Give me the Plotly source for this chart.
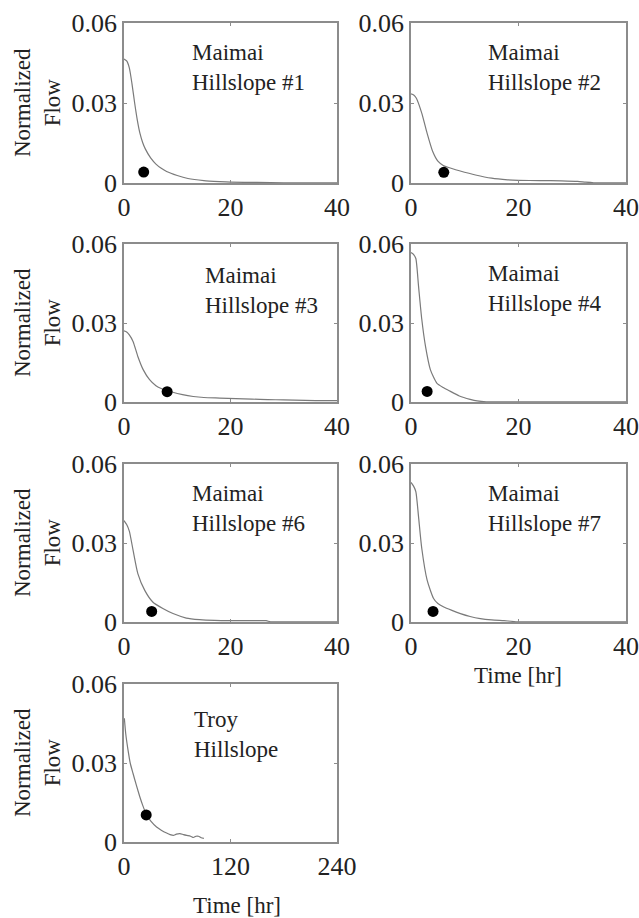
import plotly.graph_objects as go

W, H = 639, 918

# ---- data ----
p1_t = [0, 0.5, 1, 1.5, 2, 2.5, 3, 3.5, 4, 5, 6, 7, 8, 10, 12, 15, 18, 20, 25, 30, 35, 40]
p1_q = [0.0465, 0.0458, 0.0432, 0.0372, 0.0300, 0.0236, 0.0186, 0.0152, 0.0128, 0.0094, 0.0071, 0.0055, 0.0043, 0.0028, 0.0017, 0.0009, 0.0005, 0.0003, 0.0002, 0.0001, 0.0001, 0.0001]

p2_t = [0, 0.5, 1, 2, 3, 4, 5, 6, 7, 9, 12, 15, 18, 20, 24, 28, 31, 32.5, 34, 40]
p2_q = [0.0334, 0.0330, 0.0318, 0.0262, 0.0186, 0.0120, 0.0082, 0.0066, 0.0058, 0.0046, 0.0030, 0.0018, 0.0012, 0.0010, 0.0009, 0.0008, 0.0006, 0.0003, 0.0001, 0.0001]

p3_t = [0, 0.5, 1, 1.7, 2.6, 3.6, 4.8, 6, 7, 9, 11, 13, 15, 18, 21, 24, 27, 30, 34, 38, 40]
p3_q = [0.0270, 0.0266, 0.0255, 0.0230, 0.0173, 0.0123, 0.0085, 0.0062, 0.0051, 0.0038, 0.0028, 0.0021, 0.0017, 0.0015, 0.0013, 0.0011, 0.0009, 0.0008, 0.0006, 0.0005, 0.0005]

p4_t = [0, 0.5, 0.9, 1.4, 2, 2.7, 3.6, 4.8, 6, 7, 9, 11, 12.3, 14, 20, 30, 40]
p4_q = [0.0568, 0.0560, 0.0545, 0.0440, 0.0315, 0.0211, 0.0123, 0.0072, 0.0055, 0.0044, 0.0023, 0.0010, 0.0004, 0.0001, 0.0001, 0.0001, 0.0001]

p6_t = [0, 0.5, 1, 1.7, 2.6, 3.9, 5.4, 7.3, 9.2, 11.7, 14.2, 17, 20.4, 24, 26.7, 27.5, 30, 40]
p6_q = [0.0385, 0.0370, 0.0345, 0.0273, 0.0184, 0.0120, 0.0076, 0.0051, 0.0032, 0.0015, 0.0009, 0.0006, 0.0005, 0.0005, 0.0005, 0.0001, 0.0001, 0.0001]

p7_t = [0, 0.5, 0.9, 1.4, 2, 3, 4.2, 5, 6.1, 7.5, 9.2, 11, 12.9, 15, 17.3, 19.8, 25, 40]
p7_q = [0.0530, 0.0515, 0.0495, 0.0400, 0.0280, 0.0159, 0.0089, 0.0070, 0.0057, 0.0045, 0.0032, 0.0021, 0.0013, 0.0008, 0.0005, 0.0001, 0.0001, 0.0001]

troy_t = [0.4, 2, 4.5, 7, 10.2, 14, 17.8, 21, 25.3, 30, 36.7, 42, 48, 52, 55.6, 59, 63, 67, 70.7, 75, 78.2, 81, 83.9, 87, 90]
troy_q = [0.0470, 0.0410, 0.0350, 0.0300, 0.0260, 0.0215, 0.0172, 0.0140, 0.0104, 0.0080, 0.0057, 0.0045, 0.0034, 0.0028, 0.0025, 0.0030, 0.0032, 0.0028, 0.0025, 0.0022, 0.0017, 0.0022, 0.0022, 0.0016, 0.0014]

dot_t = [3.7, 6.1, 8.1, 3.0, 5.2, 4.1, 25]
dot_q = [0.0041, 0.0040, 0.0039, 0.0040, 0.0040, 0.0040, 0.0103]

panel_names = ["Maimai<br>Hillslope #1", "Maimai<br>Hillslope #2", "Maimai<br>Hillslope #3",
               "Maimai<br>Hillslope #4", "Maimai<br>Hillslope #6", "Maimai<br>Hillslope #7",
               "Troy<br>Hillslope"]

y_ticks = [0, 0.03, 0.06]
y_ticktext = ["0", "0.03", "0.06"]
x_ticks_maimai = [0, 20, 40]
x_ticks_troy = [0, 120, 240]

curves = [(p1_t, p1_q), (p2_t, p2_q), (p3_t, p3_q), (p4_t, p4_q),
          (p6_t, p6_q), (p7_t, p7_q), (troy_t, troy_q)]

# ---- layout geometry (target pixels in the 639x918 window) ----
col_px = [(124, 337), (411, 626)]
row_px = [(23, 183), (244, 402), (464, 622), (684, 842)]
panel_pos = [(0, 0), (0, 1), (1, 0), (1, 1), (2, 0), (2, 1), (3, 0)]
label_pos = [(0.31, 0.905), (0.35, 0.905), (0.37, 0.895), (0.35, 0.905), (0.31, 0.905), (0.35, 0.905), (0.32, 0.865)]


def px_x(x):
    return x / W


def px_y(y):
    return 1 - y / H


FONT = "Liberation Serif"
TXT = "#222222"
AX = "#8c8c8c"
TICK_SIZE = 26
TEXT_SIZE = 23

fig = go.Figure()
layout = dict(width=W, height=H, margin=dict(l=0, r=0, t=0, b=0, pad=0), autosize=False,
              paper_bgcolor="white", plot_bgcolor="white", showlegend=False,
              font=dict(family=FONT, size=TEXT_SIZE, color=TXT), template="none")
annotations = []

for i, ((r, c), (t, q)) in enumerate(zip(panel_pos, curves)):
    n = "" if i == 0 else str(i + 1)
    x0, x1 = col_px[c]
    yt, yb = row_px[r]
    xdom = [px_x(x0), px_x(x1)]
    ydom = [px_y(yb), px_y(yt)]
    is_troy = (i == 6)
    xt = x_ticks_troy if is_troy else x_ticks_maimai
    common = dict(showline=True, linecolor=AX, linewidth=1.5, mirror="ticks",
                  ticks="inside", ticklen=3, tickcolor=AX, tickwidth=1,
                  showgrid=False, zeroline=False, automargin=False,
                  tickfont=dict(family=FONT, size=TICK_SIZE, color=TXT))
    layout["xaxis" + n] = dict(domain=xdom, anchor="y" + n, range=[xt[0], xt[-1]],
                               tickvals=xt, ticktext=[str(v) for v in xt], **common)
    layout["yaxis" + n] = dict(domain=ydom, anchor="x" + n, range=[0, 0.06],
                               tickvals=y_ticks, ticktext=y_ticktext, **common)
    fig.add_trace(go.Scatter(x=t, y=q, mode="lines",
                             line=dict(color="#7a7a7a", width=1.2, shape="spline", smoothing=0.6),
                             xaxis="x" + n, yaxis="y" + n, hoverinfo="skip"))
    fig.add_trace(go.Scatter(x=[dot_t[i]], y=[dot_q[i]], mode="markers",
                             marker=dict(color="black", size=11, line=dict(width=0)),
                             xaxis="x" + n, yaxis="y" + n, hoverinfo="skip"))
    lx, ly = label_pos[i]
    annotations.append(dict(text=panel_names[i], xref="x%s domain" % n, yref="y%s domain" % n,
                            x=lx, y=ly, xanchor="left", yanchor="top", showarrow=False,
                            align="left", font=dict(family=FONT, size=TEXT_SIZE, color=TXT)))
    if c == 0:
        annotations.append(dict(text="Normalized<br>Flow", xref="paper", yref="paper",
                                x=px_x(37), y=px_y((yt + yb) / 2), textangle=-90,
                                xanchor="center", yanchor="middle", showarrow=False,
                                align="center", font=dict(family=FONT, size=TEXT_SIZE, color=TXT)))

annotations.append(dict(text="Time [hr]", xref="paper", yref="paper", x=px_x(518), y=px_y(675),
                        xanchor="center", yanchor="middle", showarrow=False,
                        font=dict(family=FONT, size=TEXT_SIZE, color=TXT)))
annotations.append(dict(text="Time [hr]", xref="paper", yref="paper", x=px_x(237), y=px_y(905),
                        xanchor="center", yanchor="middle", showarrow=False,
                        font=dict(family=FONT, size=TEXT_SIZE, color=TXT)))

layout["annotations"] = annotations
fig.update_layout(**layout)
fig.write_html("out.html", config={"displayModeBar": False},
               post_script="document.body.style.margin='0';document.body.style.overflow='hidden';")
